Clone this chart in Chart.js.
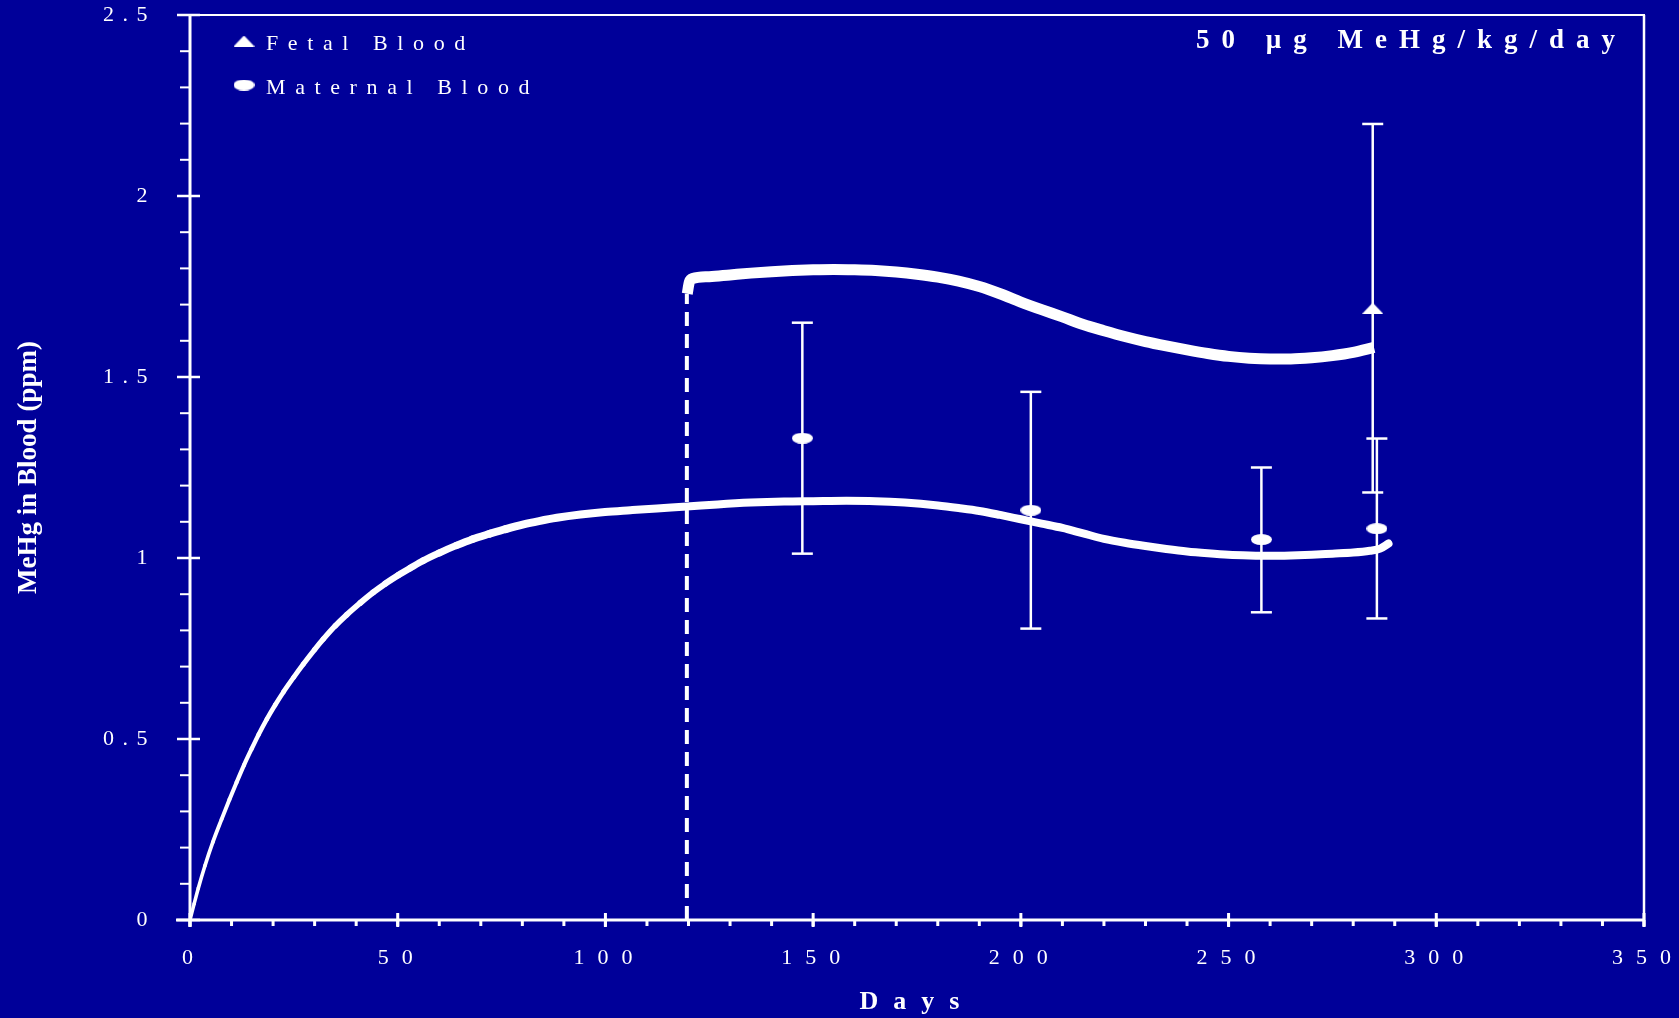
<!DOCTYPE html>
<html>
<head>
<meta charset="utf-8">
<script src="https://cdn.jsdelivr.net/npm/chart.js@4.4.1/dist/chart.umd.min.js"></script>
<style>
html,body{margin:0;padding:0;background:#000099;overflow:hidden}
canvas{display:block}
</style>
</head>
<body>
<canvas id="c" width="1679" height="1018"></canvas>
<script>
// ---------------- data ----------------
const maternalModelDays = [0, 1, 2, 3.6, 5.5, 7.6, 9.5, 11.2, 13, 14.8, 16.5, 18.5, 20.5, 22.5, 25, 27.3, 30, 32.1, 35, 37.7, 41, 44.1, 47, 50.2, 53, 56.2, 60, 64.2, 68, 72.2, 76, 80.3, 84, 88.3, 94, 99.9, 106, 112.4, 119.6, 127, 135, 143, 150, 158, 165, 172, 180, 185, 190, 195, 200, 205, 210, 215, 220, 225, 230, 235, 240, 245, 250, 255, 260, 265, 270, 275, 280, 284, 286.5, 288.5];
const maternalModelPpm  = [0, 0.045, 0.088, 0.15, 0.215, 0.278, 0.333, 0.38, 0.428, 0.472, 0.512, 0.555, 0.594, 0.63, 0.671, 0.707, 0.747, 0.776, 0.813, 0.843, 0.876, 0.905, 0.929, 0.953, 0.972, 0.993, 1.014, 1.035, 1.052, 1.067, 1.08, 1.093, 1.102, 1.111, 1.12, 1.127, 1.132, 1.137, 1.142, 1.148, 1.153, 1.156, 1.157, 1.158, 1.157, 1.153, 1.145, 1.138, 1.13, 1.119, 1.107, 1.095, 1.083, 1.068, 1.053, 1.042, 1.033, 1.025, 1.018, 1.013, 1.009, 1.007, 1.006, 1.007, 1.009, 1.012, 1.015, 1.02, 1.026, 1.04];

const fetalModelDays = [119.7, 120.2, 121, 125, 130, 135, 140, 145, 150, 155, 160, 165, 170, 175, 180, 185, 190, 195, 200, 205, 210, 215, 220, 225, 230, 235, 240, 245, 250, 255, 260, 265, 270, 275, 280, 285];
const fetalModelPpm  = [1.73, 1.762, 1.772, 1.777, 1.782, 1.787, 1.791, 1.794, 1.796, 1.797, 1.796, 1.794, 1.79, 1.784, 1.776, 1.765, 1.75, 1.73, 1.707, 1.686, 1.666, 1.645, 1.628, 1.612, 1.598, 1.586, 1.575, 1.565, 1.557, 1.552, 1.55, 1.55, 1.553, 1.559, 1.568, 1.582];

const fetalStartDays = [119.6, 119.6];
const fetalStartPpm  = [0, 1.73];

const maternalObsDays = [147.4, 202.4, 257.9, 285.7];
const maternalObsMean = [1.331, 1.132, 1.051, 1.081];
const maternalObsLow  = [1.012, 0.805, 0.850, 0.833];
const maternalObsHigh = [1.650, 1.459, 1.250, 1.330];

const fetalObsDays = [284.7];
const fetalObsMean = [1.69];
const fetalObsLow  = [1.181];
const fetalObsHigh = [2.199];

const xTickValues = [0, 50, 100, 150, 200, 250, 300, 350];
const xTickLabels = ['0', '50', '100', '150', '200', '250', '300', '350'];
const yTickValues = [0, 0.5, 1, 1.5, 2, 2.5];
const yTickLabels = ['0', '0.5', '1', '1.5', '2', '2.5'];

const legendLabels = ['Fetal Blood', 'Maternal Blood'];
const chartTitle = '50 µg MeHg/kg/day';
const xAxisTitle = 'Days';
const yAxisTitle = 'MeHg in Blood (ppm)';

// ---------------- helpers ----------------
const WHITE = '#ffffff';
const BG = '#000099';
const SERIF = '"Liberation Serif", "Times New Roman", serif';
const toXY = (xs, ys) => xs.map((x, i) => ({x: x, y: ys[i]}));

function ellipseMarker(w, h) {
  const c = document.createElement('canvas');
  c.width = w; c.height = h;
  const g = c.getContext('2d');
  g.fillStyle = WHITE;
  g.beginPath();
  g.ellipse(w / 2, h / 2, w / 2, h / 2, 0, 0, Math.PI * 2);
  g.fill();
  return c;
}
function triangleMarker(w, h) {
  const c = document.createElement('canvas');
  c.width = w; c.height = h;
  const g = c.getContext('2d');
  g.fillStyle = WHITE;
  g.beginPath();
  g.moveTo(w / 2, 0); g.lineTo(w, h); g.lineTo(0, h); g.closePath();
  g.fill();
  return c;
}
const ellipseImg = ellipseMarker(21, 11);
const triangleImg = triangleMarker(21, 11);

// ---------------- plugins ----------------
const bgPlugin = {
  id: 'bg',
  beforeDraw(chart) {
    const ctx = chart.ctx;
    ctx.save();
    ctx.fillStyle = BG;
    ctx.fillRect(0, 0, chart.width, chart.height);
    ctx.restore();
  }
};

// letter spacing per scale, applied only while the scale draws its texts
const spacingPlugin = {
  id: 'letterSpacing',
  afterLayout(chart) {
    const cfg = {x: {labels: '13px', title: '15px'}, y: {labels: '8.5px', title: '0px'}};
    Object.keys(cfg).forEach(id => {
      const s = chart.scales[id];
      if (!s || s.__spaced) return;
      const ls = cfg[id];
      const dl = s.drawLabels, dt = s.drawTitle;
      s.drawLabels = function (ca) { const c = this.ctx; c.save(); c.letterSpacing = ls.labels; dl.call(this, ca); c.restore(); };
      s.drawTitle = function () { const c = this.ctx; c.save(); c.letterSpacing = ls.title; dt.call(this); c.restore(); };
      s.__spaced = true;
    });
  }
};

function seg(ctx, x1, y1, x2, y2) {
  ctx.beginPath(); ctx.moveTo(x1, y1); ctx.lineTo(x2, y2); ctx.stroke();
}

const axesPlugin = {
  id: 'axesFrame',
  beforeDatasetsDraw(chart) {
    const {ctx, scales: {x, y}} = chart;
    ctx.save();
    ctx.strokeStyle = WHITE;
    ctx.lineCap = 'butt';
    const yMin = y.min, yMax = y.max, xMin = x.min, xMax = x.max;
    const x0 = x.getPixelForValue(xMin), x1 = x.getPixelForValue(xMax);
    const y0 = y.getPixelForValue(yMin), y1 = y.getPixelForValue(yMax);
    // frame (top + right)
    ctx.lineWidth = 2;
    seg(ctx, x0 - 13, y1, x1 + 1, y1);
    ctx.lineWidth = 2.5;
    seg(ctx, x1, y1, x1, y0 + 7);
    // minor y ticks
    ctx.lineWidth = 2;
    for (let i = 0; i <= Math.round((yMax - yMin) * 10); i++) {
      const py = y.getPixelForValue(yMin + i / 10);
      seg(ctx, x0 - 10, py, x0, py);
    }
    // major y ticks
    ctx.lineWidth = 2.5;
    yTickValues.forEach(v => { const py = y.getPixelForValue(v); seg(ctx, x0 - 13, py, x0 + 10, py); });
    // minor x ticks
    ctx.lineWidth = 3;
    for (let d = xMin; d <= xMax; d += 10) {
      const px = x.getPixelForValue(d);
      seg(ctx, px, y0, px, y0 + 6);
    }
    // major x ticks
    xTickValues.forEach(v => { const px = x.getPixelForValue(v); seg(ctx, px, y0 - 7, px, y0 + 7); });
    // axis lines
    ctx.lineWidth = 3;
    seg(ctx, x0, y1, x0, y0 + 7);
    seg(ctx, x0 - 14, y0, x1, y0);
    ctx.restore();
  }
};

const errorBarPlugin = {
  id: 'errorBars',
  beforeDatasetsDraw(chart) {
    const {ctx, scales: {x, y}} = chart;
    ctx.save();
    ctx.strokeStyle = WHITE;
    ctx.lineCap = 'butt';
    const groups = [
      [fetalObsDays, fetalObsLow, fetalObsHigh],
      [maternalObsDays, maternalObsLow, maternalObsHigh]
    ];
    groups.forEach(([days, lo, hi]) => {
      days.forEach((d, i) => {
        const px = x.getPixelForValue(d);
        const pl = y.getPixelForValue(lo[i]);
        const ph = y.getPixelForValue(hi[i]);
        ctx.lineWidth = 2.5;
        seg(ctx, px, pl, px, ph);
        seg(ctx, px - 10.5, pl, px + 10.5, pl);
        seg(ctx, px - 10.5, ph, px + 10.5, ph);
      });
    });
    ctx.restore();
  }
};

const overlayTextPlugin = {
  id: 'overlayText',
  afterDraw(chart) {
    const {ctx, chartArea: a} = chart;
    ctx.save();
    ctx.fillStyle = WHITE;
    // legend
    const markers = [triangleImg, ellipseImg];
    const rowY = [a.top + 26, a.top + 70];
    ctx.font = '22px ' + SERIF;
    ctx.letterSpacing = '9.6px';
    ctx.textAlign = 'left';
    ctx.textBaseline = 'middle';
    legendLabels.forEach((t, i) => {
      const m = markers[i];
      ctx.drawImage(m, a.left + 54 - m.width / 2, rowY[i] - m.height / 2);
      ctx.fillText(t, a.left + 76, rowY[i] + 3);
    });
    // chart title (top right, inside the plot)
    ctx.font = 'bold 27px ' + SERIF;
    ctx.letterSpacing = '12px';
    ctx.fillText(chartTitle, a.right - 448, a.top + 26);
    ctx.restore();
  }
};

// ---------------- chart ----------------
Chart.defaults.font.family = SERIF;
Chart.defaults.color = WHITE;

new Chart(document.getElementById('c'), {
  type: 'scatter',
  data: {
    datasets: [
      {
        label: 'Fetal model start',
        data: toXY(fetalStartDays, fetalStartPpm),
        showLine: true,
        borderColor: WHITE,
        borderWidth: 4,
        borderDash: [14, 8],
        pointRadius: 0,
        tension: 0
      },
      {
        label: 'Maternal model',
        data: toXY(maternalModelDays, maternalModelPpm),
        showLine: true,
        borderColor: WHITE,
        borderWidth: 8,
        borderCapStyle: 'round',
        pointRadius: 0,
        cubicInterpolationMode: 'monotone',
        segment: {
          borderWidth: c => Math.min(8, 3.5 + c.p0.parsed.x * 0.06)
        }
      },
      {
        label: 'Fetal model',
        data: toXY(fetalModelDays, fetalModelPpm),
        showLine: true,
        borderColor: WHITE,
        borderWidth: 11,
        borderCapStyle: 'butt',
        pointRadius: 0,
        cubicInterpolationMode: 'monotone'
      },
      {
        label: legendLabels[0],
        data: toXY(fetalObsDays, fetalObsMean),
        showLine: false,
        pointStyle: triangleImg,
        pointRadius: 6,
        backgroundColor: WHITE,
        borderColor: WHITE
      },
      {
        label: legendLabels[1],
        data: toXY(maternalObsDays, maternalObsMean),
        showLine: false,
        pointStyle: ellipseImg,
        pointRadius: 6,
        backgroundColor: WHITE,
        borderColor: WHITE
      }
    ]
  },
  options: {
    responsive: false,
    animation: false,
    devicePixelRatio: 1,
    layout: {padding: {left: 0, top: 15, right: 35, bottom: 0}},
    plugins: {
      legend: {display: false},
      title: {display: false},
      tooltip: {enabled: false}
    },
    scales: {
      x: {
        type: 'linear',
        position: 'bottom',
        min: 0,
        max: 350,
        afterBuildTicks: s => { s.ticks = xTickValues.map(v => ({value: v})); },
        afterFit: s => { s.height = 98; s.paddingLeft = 0; s.paddingRight = 0; },
        grid: {display: false, drawTicks: false},
        border: {display: false},
        ticks: {
          color: WHITE,
          font: {size: 22, family: SERIF},
          padding: 25,
          labelOffset: 4,
          maxRotation: 0,
          autoSkip: false,
          callback: (v, i) => xTickLabels[i]
        },
        title: {
          display: true,
          text: xAxisTitle,
          color: WHITE,
          font: {size: 26, weight: 'bold', family: SERIF},
          padding: {top: 0, bottom: 0}
        }
      },
      y: {
        type: 'linear',
        min: 0,
        max: 2.5,
        afterBuildTicks: s => { s.ticks = yTickValues.map(v => ({value: v})); },
        afterFit: s => { s.width = 190; s.paddingTop = 0; s.paddingBottom = 0; },
        grid: {display: false, drawTicks: false},
        border: {display: false},
        ticks: {
          color: WHITE,
          font: {size: 22, family: SERIF},
          padding: 34,
          autoSkip: false,
          callback: (v, i) => yTickLabels[i]
        },
        title: {
          display: true,
          text: yAxisTitle,
          color: WHITE,
          font: {size: 27, weight: 'bold', family: SERIF},
          padding: {top: 13, bottom: 0}
        }
      }
    }
  },
  plugins: [bgPlugin, spacingPlugin, axesPlugin, errorBarPlugin, overlayTextPlugin]
});
</script>
</body>
</html>
